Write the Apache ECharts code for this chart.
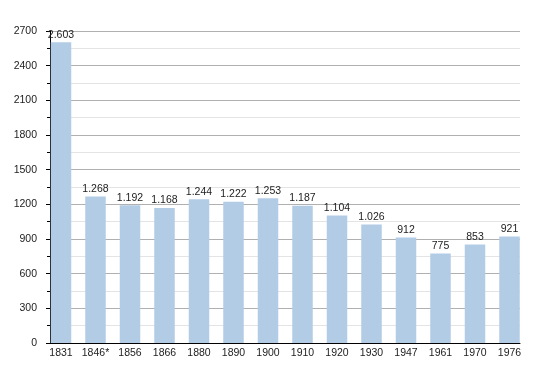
<!DOCTYPE html>
<html>
<head>
<meta charset="utf-8">
<script src="https://cdn.jsdelivr.net/npm/echarts@6/dist/echarts.min.js"></script>
<style>html,body{margin:0;padding:0;background:#fff;}#c{width:550px;height:373px;}</style>
</head>
<body>
<div id="c"></div>
<script>
var categories = ['1831','1846*','1856','1866','1880','1890','1900','1910','1920','1930','1947','1961','1970','1976'];
var population = [2603,1268,1192,1168,1244,1222,1253,1187,1104,1026,912,775,853,921];
var yTicks = [0,300,600,900,1200,1500,1800,2100,2400,2700];

var yMin = yTicks[0], yMax = yTicks[yTicks.length-1], yStep = yTicks[1]-yTicks[0];
function fmt(v){ return String(v).replace(/\B(?=(\d{3})+(?!\d))/g, '.'); }
var font = 'Liberation Sans, Arial, Helvetica, sans-serif';

var chart = echarts.init(document.getElementById('c'), null, {renderer:'canvas'});
chart.setOption({
  animation:false,
  backgroundColor:'#ffffff',
  grid:[
    {left:50, right:30, top:31, bottom:30, containLabel:false},
    {left:43.75, right:23.25, top:31, bottom:30, containLabel:false}
  ],
  xAxis:[
    {gridIndex:0, type:'value', min:0, max:1, axisLine:{show:true, onZero:false, lineStyle:{color:'#000', width:1}},
     axisTick:{show:false}, axisLabel:{show:false}, splitLine:{show:false}},
    {gridIndex:1, type:'category', data:categories, axisLine:{show:false}, axisTick:{show:false},
     axisLabel:{color:'#222', fontSize:10.5, fontFamily:font, margin:5, interval:0}}
  ],
  yAxis:[
    {gridIndex:0, type:'value', min:yMin, max:yMax, interval:yStep,
     axisLine:{show:true, lineStyle:{color:'#000', width:1}},
     axisTick:{show:true, length:4, lineStyle:{color:'#000'}},
     minorTick:{show:true, splitNumber:2, length:3, lineStyle:{color:'#000'}},
     axisLabel:{color:'#222', fontSize:10.5, fontFamily:font, margin:13,
       formatter:function(v){ return String(v); }},
     splitLine:{show:true, lineStyle:{color:'#b0b0b0', width:1}},
     minorSplitLine:{show:true, lineStyle:{color:'#e4e4e4', width:1}}},
    {gridIndex:1, type:'value', min:yMin, max:yMax, show:false, splitLine:{show:false}}
  ],
  series:[{
    type:'bar', xAxisIndex:1, yAxisIndex:1, data:population, barWidth:20.5,
    itemStyle:{color:'#b3cce6'},
    label:{show:true, position:'top', distance:2, color:'#222', fontSize:10.5, fontFamily:font,
      formatter:function(p){ return fmt(p.value); }}
  }]
});
</script>
</body>
</html>
